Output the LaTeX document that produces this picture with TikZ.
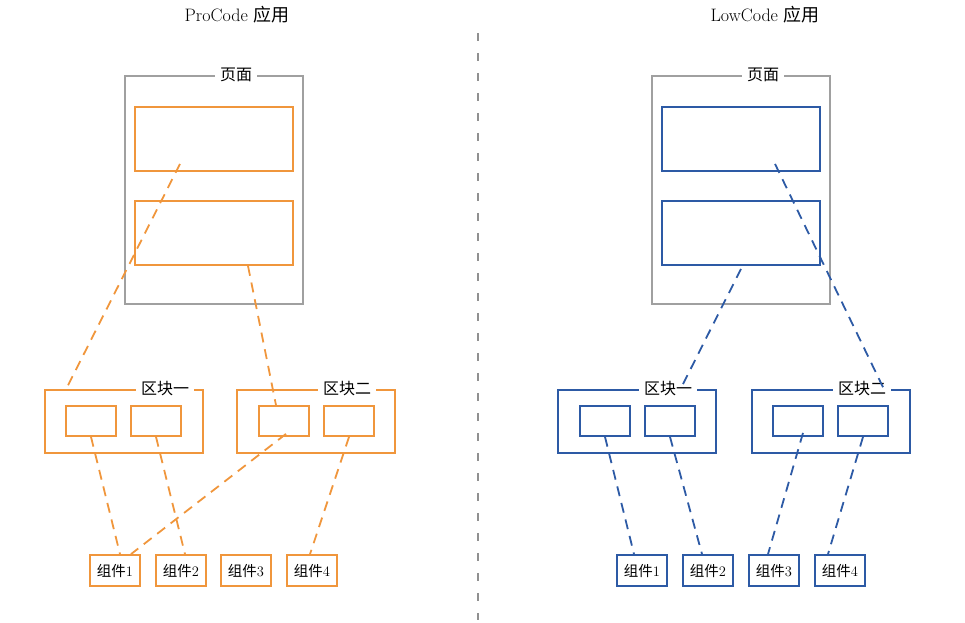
\documentclass[tikz,border=0pt]{standalone}
\usepackage{fontspec}
\newfontfamily\cjk{Noto Sans CJK SC}
\usetikzlibrary{positioning,calc}
\definecolor{procode}{RGB}{240,150,60}
\definecolor{lowcode}{RGB}{45,90,165}
\definecolor{pagegray}{RGB}{160,160,160}

\begin{document}
\begin{tikzpicture}[x=1pt,y=-1pt,
  pagebox/.style={rectangle,draw=pagegray,line width=1.8pt,minimum width=178pt,minimum height=228pt},
  areabox/.style={rectangle,draw,line width=1.8pt,minimum width=158pt,minimum height=64pt},
  blockbox/.style={rectangle,draw,line width=1.8pt,minimum width=158pt,minimum height=63pt},
  slotbox/.style={rectangle,draw,line width=1.8pt,minimum width=50pt,minimum height=30pt},
  compbox/.style={rectangle,draw,fill=white,line width=1.8pt,minimum width=50pt,minimum height=31pt,inner sep=0pt,font=\fontsize{14.5}{16}\selectfont},
  boxlabel/.style={fill=white,inner xsep=5pt,inner ysep=1pt,font=\fontsize{16}{18}\selectfont\cjk},
  title/.style={font=\fontsize{18}{20}\selectfont},
  link/.style={line width=1.8pt,dash pattern=on 10pt off 7pt}]

  \useasboundingbox (0,0) rectangle (965,622);

  % Titles and divider
  \node[title] (LT) at (237,15) {ProCode {\cjk 应用}};
  \node[title] (RT) at (765,15) {LowCode {\cjk 应用}};
  \coordinate (DivTop) at (478,33);
  \coordinate (DivBot) at (478,620);
  \draw[pagegray!90!black,line width=1.3pt,dash pattern=on 8pt off 12pt] (DivTop) -- (DivBot);

  % ProCode: page
  \node[pagebox] (LP) at (214,190) {};
  \node[boxlabel,xshift=22pt] at (LP.north) {页面};
  \node[areabox,draw=procode] (LA1) at (214,139) {};
  \node[areabox,draw=procode] (LA2) at (214,233) {};

  % ProCode: blocks
  \node[blockbox,draw=procode] (LB1) at (124,421.5) {};
  \node[boxlabel] at (165,389) {区块一};
  \node[slotbox,draw=procode] (LB1a) at (91,421) {};
  \node[slotbox,draw=procode] (LB1b) at (156,421) {};

  \node[blockbox,draw=procode] (LB2) at (316,421.5) {};
  \node[boxlabel] at (347,389) {区块二};
  \node[slotbox,draw=procode] (LB2a) at (284,421) {};
  \node[slotbox,draw=procode] (LB2b) at (349,421) {};

  % ProCode: components
  \node[compbox,draw=procode] (LC1) at (115,570.5) {{\cjk 组件}1};
  \node[compbox,draw=procode] (LC2) at (181,570.5) {{\cjk 组件}2};
  \node[compbox,draw=procode] (LC3) at (246,570.5) {{\cjk 组件}3};
  \node[compbox,draw=procode] (LC4) at (312,570.5) {{\cjk 组件}4};

  % ProCode: links
  \draw[link,procode] ([xshift=-34pt,yshift=8pt]LA1.south) -- ([xshift=21pt,yshift=-2pt]LB1.north west);
  \draw[link,procode] ([xshift=34pt]LA2.south) -- ([xshift=-8pt]LB2a.north);
  \draw[link,procode] (LB1a.south) -- ([xshift=5pt]LC1.north);
  \draw[link,procode] (LB1b.south) -- ([xshift=4pt]LC2.north);
  \draw[link,procode] ([xshift=2pt,yshift=3pt]LB2a.south) -- ([xshift=16pt]LC1.north);
  \draw[link,procode] (LB2b.south) -- ([xshift=-2pt]LC4.north);

  % LowCode: page
  \node[pagebox] (RP) at (741,190) {};
  \node[boxlabel,xshift=22pt] at (RP.north) {页面};
  \node[areabox,draw=lowcode] (RA1) at (741,139) {};
  \node[areabox,draw=lowcode] (RA2) at (741,233) {};

  % LowCode: blocks
  \node[blockbox,draw=lowcode] (RB1) at (637,421.5) {};
  \node[boxlabel] at (668,389) {区块一};
  \node[slotbox,draw=lowcode] (RB1a) at (605,421) {};
  \node[slotbox,draw=lowcode] (RB1b) at (670,421) {};

  \node[blockbox,draw=lowcode] (RB2) at (831,421.5) {};
  \node[boxlabel] at (862,389) {区块二};
  \node[slotbox,draw=lowcode] (RB2a) at (798,421) {};
  \node[slotbox,draw=lowcode] (RB2b) at (863,421) {};

  % LowCode: components
  \node[compbox,draw=lowcode] (RC1) at (642,570.5) {{\cjk 组件}1};
  \node[compbox,draw=lowcode] (RC2) at (708,570.5) {{\cjk 组件}2};
  \node[compbox,draw=lowcode] (RC3) at (774,570.5) {{\cjk 组件}3};
  \node[compbox,draw=lowcode] (RC4) at (840,570.5) {{\cjk 组件}4};

  % LowCode: links
  \draw[link,lowcode] ([xshift=34pt,yshift=8pt]RA1.south) -- ([xshift=-27pt]RB2.north east);
  \draw[link,lowcode] ([yshift=-3pt]RA2.south) -- ([xshift=46pt,yshift=5pt]RB1.north);
  \draw[link,lowcode] (RB1a.south) -- ([xshift=-8pt]RC1.north);
  \draw[link,lowcode] (RB1b.south) -- ([xshift=-6pt]RC2.north);
  \draw[link,lowcode] ([xshift=5pt,yshift=4pt]RB2a.south) -- ([xshift=-6pt]RC3.north);
  \draw[link,lowcode] (RB2b.south) -- ([xshift=-12pt]RC4.north);

\end{tikzpicture}
\end{document}
